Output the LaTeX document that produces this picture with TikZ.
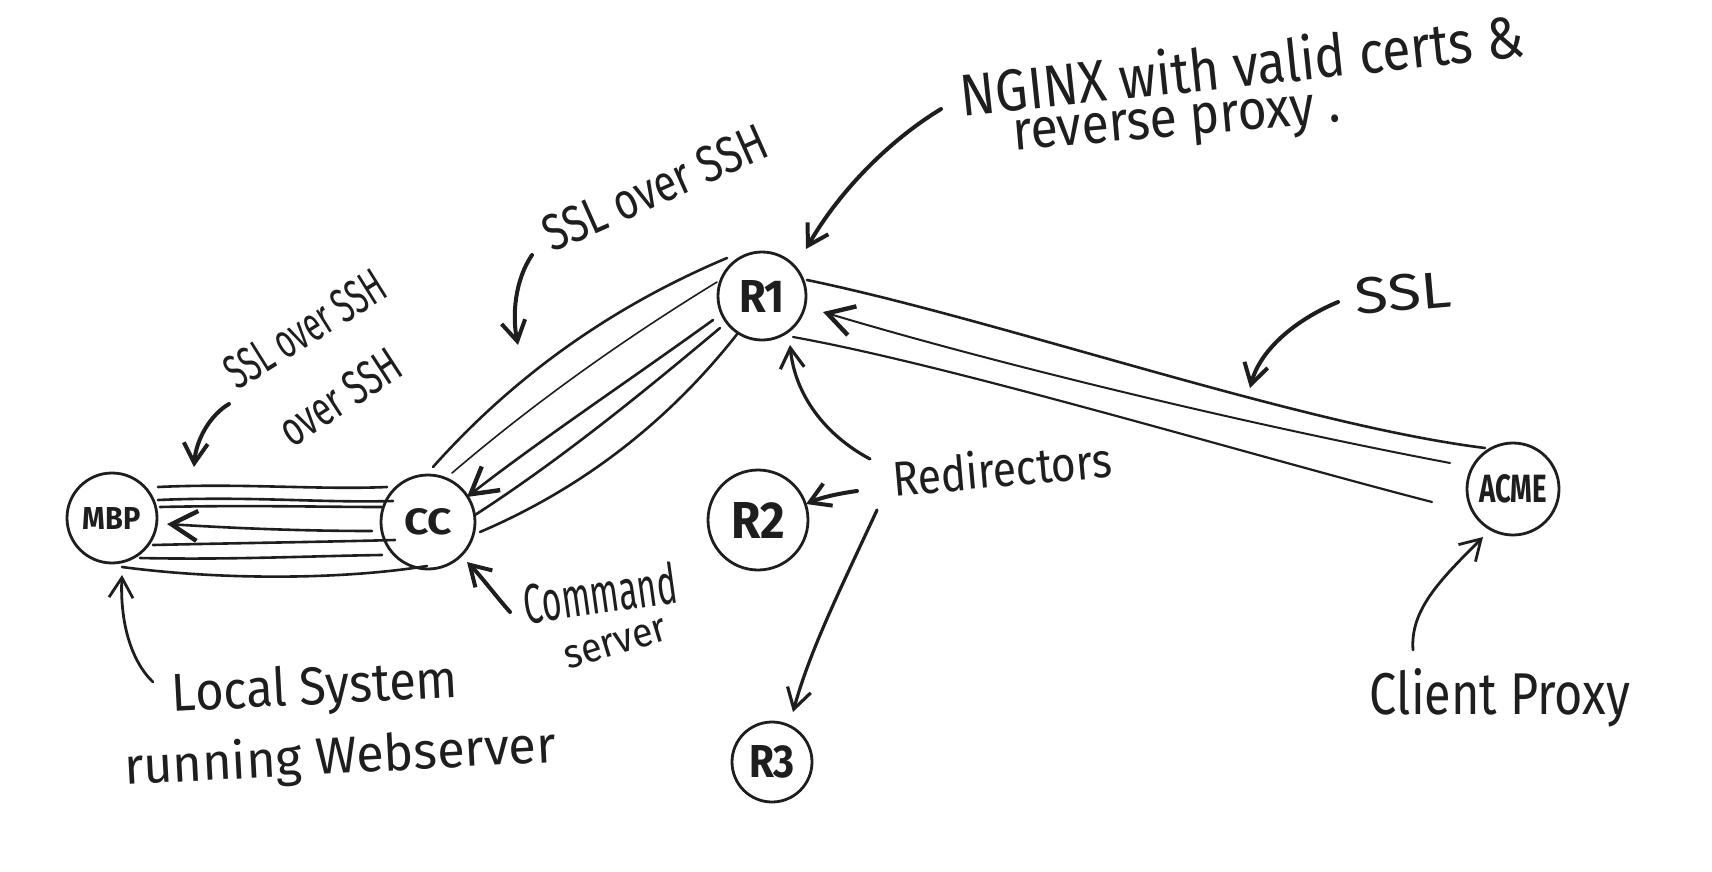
\documentclass[tikz,border=0pt]{standalone}
\usepackage{fontspec}
\setmainfont{Fira Sans}
\usetikzlibrary{arrows.meta}
\newcommand{\handtext}[3]{\resizebox{#1}{#2}{#3}}
\definecolor{ink}{HTML}{1E1E1E}
\begin{document}
\begin{tikzpicture}[x=0.5pt,y=-0.5pt,line cap=round,line join=round,color=ink]
\tikzset{
  nd/.style={draw, circle, line width=1.4pt, inner sep=0pt},
  lbl/.style={inner sep=0pt},
  tun/.style={line width=1.3pt},
  tunthin/.style={line width=0.8pt},
  tunarrow/.style={line width=1.3pt, -{Straight Barb[length=13pt,width=15pt,line width=2.2pt]}},
  ann/.style={line width=2pt, -{Straight Barb[length=10pt,width=12pt]}},
}
\useasboundingbox (0,0) rectangle (1712,872);

% nodes
\node[nd, minimum size=45pt] (MBP) at (112,518) {\handtext{29pt}{11pt}{\bfseries MBP}};
\node[nd, minimum size=47pt] (CC) at (428,522) {\handtext{24pt}{13pt}{\bfseries CC}};
\node[nd, minimum size=44pt] (R1) at (762,296) {\handtext{23pt}{16pt}{\bfseries R1}};
\node[nd, minimum size=50pt] (R2) at (758,520) {\handtext{27pt}{18pt}{\bfseries R2}};
\node[nd, minimum size=40pt] (R3) at (772,762) {\handtext{23pt}{16pt}{\bfseries R3}};
\node[nd, minimum size=46pt] (ACME) at (1513,489) {\handtext{34pt}{14pt}{\bfseries ACME}};

% labels
\node[lbl, rotate=6] (nginx1) at (1242,64) {\handtext{283pt}{23pt}{NGINX with valid certs \&}};
\node[lbl, rotate=5] (nginx2) at (1177,127) {\handtext{164pt}{15pt}{reverse proxy .}};
\node[lbl, rotate=24] (sslA) at (655,188) {\handtext{120pt}{18pt}{SSL over SSH}};
\node[lbl, rotate=32] (sslB1) at (305,329) {\handtext{90pt}{17pt}{SSL over SSH}};
\node[lbl, rotate=33] (sslB2) at (340,397) {\handtext{68pt}{17pt}{over SSH}};
\node[lbl, rotate=5] (redir) at (1002,468) {\handtext{110pt}{19pt}{Redirectors}};
\node[lbl, rotate=8] (cmd1) at (600,593) {\handtext{77pt}{21pt}{Command}};
\node[lbl, rotate=17] (cmd2) at (616,644) {\handtext{53pt}{11pt}{server}};
\node[lbl, rotate=3] (loc1) at (315,690) {\handtext{143pt}{20pt}{Local System}};
\node[lbl, rotate=3] (loc2) at (340,759) {\handtext{216pt}{20pt}{running Webserver}};
\node[lbl, rotate=5] (sslC) at (1403,293) {\handtext{48pt}{18pt}{SSL}};
\node[lbl] (client) at (1500,698) {\handtext{130pt}{23pt}{Client Proxy}};

% free ends of annotation arrows
\coordinate (nginxS) at (941,109);
\coordinate (sslAS) at (532,255);
\coordinate (sslAT) at (518,345);
\coordinate (sslBS) at (229,404);
\coordinate (sslBT) at (194,467);
\coordinate (redS1) at (870,459);
\coordinate (redS2) at (857,491);
\coordinate (redS3) at (877,510);
\coordinate (locS) at (153,682);
\coordinate (cmdS) at (510,612);
\coordinate (sslCS) at (1338,302);
\coordinate (sslCT) at (1250,388);
\coordinate (cliS) at (1413,650);

% MBP -- CC tunnel
\draw[tun] ([shift={(46,-31)}]MBP.center) .. controls (240,483) and (320,490) .. ([shift={(-41,-35)}]CC.center);
\draw[tun] ([shift={(46,-18)}]MBP.center) .. controls (250,496) and (320,503) .. ([shift={(-35,-21)}]CC.center);
\draw[tun] ([shift={(48,-11)}]MBP.center) .. controls (250,505) and (320,507) .. ([shift={(-46,-15)}]CC.center);
\draw[tunarrow] ([shift={(-56,9)}]CC.center) .. controls (300,531) and (230,528) .. ([shift={(55,6)}]MBP.center);
\draw[tun] ([shift={(41,27)}]MBP.center) .. controls (240,543) and (320,542) .. ([shift={(-33,18)}]CC.center);
\draw[tun] ([shift={(28,40)}]MBP.center) .. controls (230,560) and (310,556) .. ([shift={(-46,33)}]CC.center);
\draw[tun] ([shift={(10,49)}]MBP.center) .. controls (220,580) and (340,580) .. ([shift={(-1,44)}]CC.center);

% CC -- R1 tunnel
\draw[tun] ([shift={(5,-55)}]CC.center) .. controls (515,375) and (613,306) .. ([shift={(-35,-38)}]R1.center);
\draw[tunthin] ([shift={(24,-49)}]CC.center) .. controls (535,402) and (624,339) .. ([shift={(-45,-14)}]R1.center);
\draw[tunarrow] ([shift={(-49,24)}]R1.center) .. controls (630,380) and (540,440) .. ([shift={(39,-25)}]CC.center);
\draw[tun] ([shift={(-42,32)}]R1.center) .. controls (640,395) and (560,460) .. ([shift={(47,-7)}]CC.center);
\draw[tun] ([shift={(-24,37)}]R1.center) .. controls (669,421) and (583,488) .. ([shift={(52,10)}]CC.center);

% R1 -- ACME tunnel
\draw[tun] ([shift={(45,-16)}]R1.center) .. controls (1000,320) and (1300,425) .. ([shift={(-28,-41)}]ACME.center);
\draw[tunarrow, line width=1pt] ([shift={(-63,-26)}]ACME.center) .. controls (1250,425) and (1000,365) .. ([shift={(61,16)}]R1.center);
\draw[tun, line width=1.1pt] ([shift={(31,41)}]R1.center) .. controls (950,365) and (1250,455) .. ([shift={(-81,13)}]ACME.center);

% annotation arrows
\draw[ann] (nginxS) .. controls (890,140) and (840,190) .. ([shift={(44,-47)}]R1.center);
\draw[ann] (sslAS) .. controls (515,280) and (512,315) .. (sslAT);
\draw[ann] (sslBS) .. controls (210,415) and (196,440) .. (sslBT);
\draw[ann, line width=1.6pt] (redS1) .. controls (825,435) and (795,395) .. ([shift={(28,49)}]R1.center);
\draw[ann] (redS2) .. controls (835,494) and (820,498) .. ([shift={(48,-16)}]R2.center);
\draw[ann, line width=1.6pt] (redS3) .. controls (840,590) and (810,650) .. ([shift={(21,-50)}]R3.center);
\draw[ann, line width=1.4pt] (locS) .. controls (130,660) and (120,620) .. ([shift={(10,57)}]MBP.center);
\draw[ann] (cmdS) .. controls (495,595) and (480,575) .. ([shift={(39,40)}]CC.center);
\draw[ann] (sslCS) .. controls (1295,320) and (1260,350) .. (sslCT);
\draw[ann, line width=1.4pt] (cliS) .. controls (1410,610) and (1440,580) .. ([shift={(-30,48)}]ACME.center);
\end{tikzpicture}
\end{document}
